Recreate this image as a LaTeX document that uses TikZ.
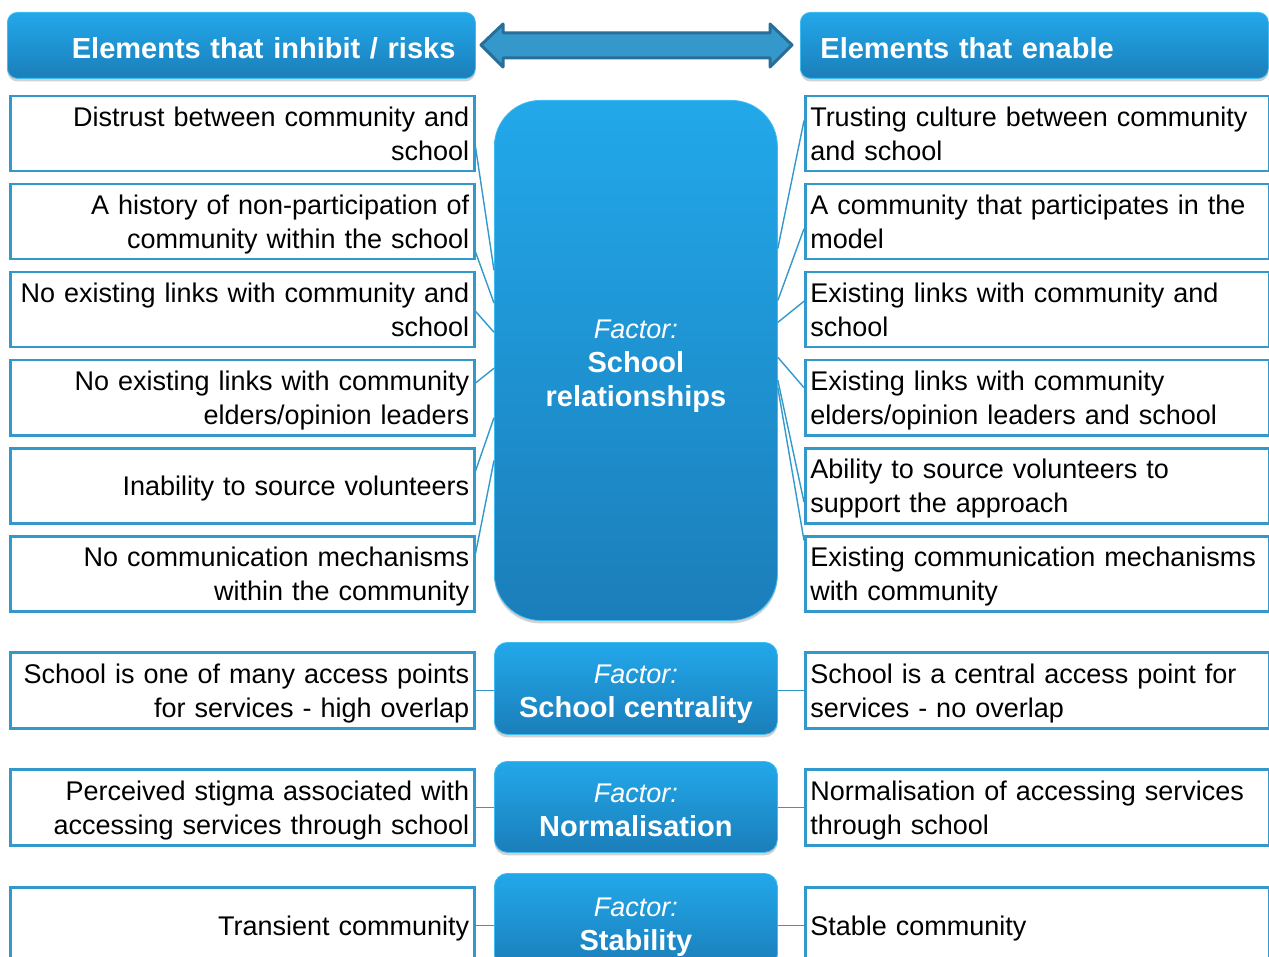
\documentclass[tikz,border=0pt]{standalone}
\usepackage{fontspec}
\setmainfont{Liberation Sans}
\usetikzlibrary{shadows,calc}
\definecolor{boxline}{HTML}{3399CC}
\definecolor{ftop}{HTML}{22A8EA}
\definecolor{fbot}{HTML}{1B7EBA}
\definecolor{rim}{HTML}{3FBDF0}
\definecolor{arrfill}{HTML}{3498CB}
\definecolor{arrline}{HTML}{2A6E98}
\tikzset{
  txt/.style={font=\fontsize{27}{34}\selectfont},
  lbox/.style={txt, draw=boxline, line width=2.5pt, fill=white, minimum width=464pt, minimum height=75pt,
    anchor=north west, text width=454pt, align=right, inner xsep=5pt, inner ysep=0pt,
    text height=19.5pt, text depth=34pt},
  rbox/.style={lbox, align=left},
  oneline/.style={text depth=0pt},
  blue box/.style={draw=rim, line width=0.8pt, top color=ftop, bottom color=fbot, text=white,
    drop shadow={opacity=0.35, shadow xshift=0pt, shadow yshift=-3pt}},
  hdr/.style={blue box, rounded corners=10pt, minimum width=468pt, minimum height=66pt, anchor=north west,
    text width=428pt, inner xsep=20pt, inner ysep=0pt, text height=27pt, text depth=0pt,
    font=\fontsize{29}{34}\selectfont\bfseries},
  factorbox/.style={blue box, rounded corners=13pt, minimum width=283pt, anchor=north west, align=center,
    font=\fontsize{27}{34}\selectfont, inner sep=0pt, text depth=0pt},
  conn/.style={draw=boxline, line width=1.4pt},
}
\newcommand{\fctline}{{\itshape Factor:}}
\newcommand{\bl}{\bfseries\fontsize{29}{34}\selectfont}
\begin{document}
\begin{tikzpicture}[x=1pt, y=-1pt]
\clip (0,0) rectangle (1269,957);
\fill[white] (0,0) rectangle (1269,957);

% headers
\node[hdr, align=right] (hl) at (7,12) {Elements that inhibit / risks};
\node[hdr, align=left] (hr) at (800,12) {Elements that enable};

% double arrow
\draw[fill=arrfill, draw=arrline, line width=3pt, line join=round]
  (481,45) -- (503,24) -- (503,33) -- (770,33) -- (770,24) -- (792,45) -- (770,67) -- (770,58)
  -- (503,58) -- (503,67) -- cycle;

% central factors
\node[factorbox, rounded corners=46pt, minimum height=520pt, text height=93pt] (big) at (494,100)
  {\fctline\\{\bl School}\\{\bl relationships}};
\node[factorbox, minimum height=92pt, text height=58pt] (f1) at (494,642) {\fctline\\{\bl School centrality}};
\node[factorbox, minimum height=91pt, text height=60pt] (f2) at (494,761) {\fctline\\{\bl Normalisation}};
\node[factorbox, minimum height=94pt, text height=61pt] (f3) at (494,873) {\fctline\\{\bl Stability}};

% left boxes
\node[lbox] (l1) at (9,95) {Distrust between community and\\school};
\node[lbox] (l2) at (9,183) {A history of non-participation of\\community within the school};
\node[lbox] (l3) at (9,271) {No existing links with community and\\school};
\node[lbox] (l4) at (9,359) {No existing links with community\\elders/opinion leaders};
\node[lbox, oneline] (l5) at (9,447) {Inability to source volunteers};
\node[lbox] (l6) at (9,535) {No communication mechanisms\\within the community};
\node[lbox, minimum height=76pt] (l7) at (9,651) {School is one of many access points\\for services - high overlap};
\node[lbox, minimum height=76pt] (l8) at (9,768) {Perceived stigma associated with\\accessing services through school};
\node[lbox, oneline, minimum height=76pt] (l9) at (9,886) {Transient community};

% right boxes
\node[rbox] (r1) at (804,95) {Trusting culture between community\\and school};
\node[rbox] (r2) at (804,183) {A community that participates in the\\model};
\node[rbox] (r3) at (804,271) {Existing links with community and\\school};
\node[rbox] (r4) at (804,359) {Existing links with community\\elders/opinion leaders and school};
\node[rbox] (r5) at (804,447) {Ability to source volunteers to\\support the approach};
\node[rbox] (r6) at (804,535) {Existing communication mechanisms\\with community};
\node[rbox, minimum height=76pt] (r7) at (804,651) {School is a central access point for\\services - no overlap};
\node[rbox, minimum height=76pt] (r8) at (804,768) {Normalisation of accessing services\\through school};
\node[rbox, oneline, minimum height=76pt] (r9) at (804,886) {Stable community};

% left connectors
\foreach \n/\s/\e in {l1/0.67/0.327, l2/0.89/0.390, l3/0.52/0.446, l4/0.31/0.515, l5/0.31/0.610, l6/0.24/0.692}
  \draw[conn] ($(\n.north east)!\s!(\n.south east)$) -- ($(big.north west)!\e!(big.south west)$);
% right connectors
\foreach \n/\s/\e in {r1/0.33/0.285, r2/0.59/0.385, r3/0.39/0.427, r4/0.37/0.494, r5/0.71/0.538, r6/0.07/0.552}
  \draw[conn] ($(\n.north west)!\s!(\n.south west)$) -- ($(big.north east)!\e!(big.south east)$);

% factor connectors
\draw[conn] (l7.east) -- (l7.east -| f1.west);
\draw[conn] (l8.east) -- (l8.east -| f2.west);
\draw[conn] (l9.east) -- (l9.east -| f3.west);
\draw[conn] (r7.west) -- (r7.west -| f1.east);
\draw[conn] (r8.west) -- (r8.west -| f2.east);
\draw[conn] (r9.west) -- (r9.west -| f3.east);
\end{tikzpicture}
\end{document}
